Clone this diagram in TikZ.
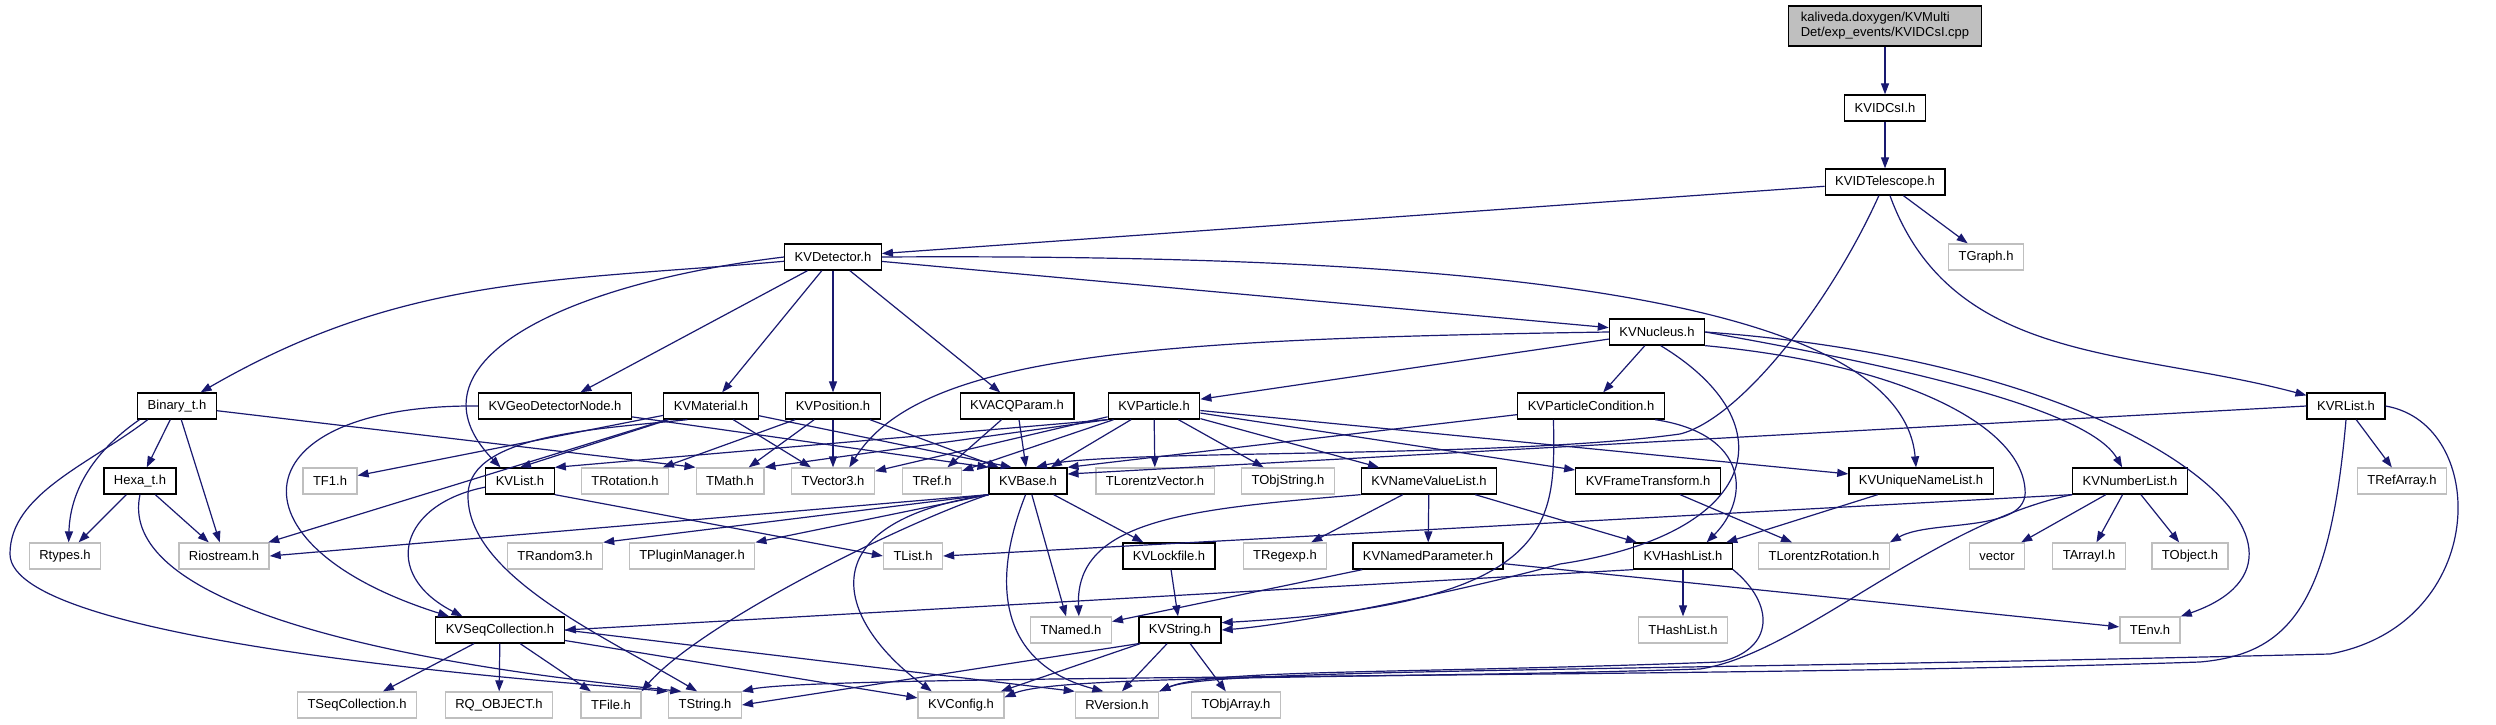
\documentclass[tikz,border=0pt]{standalone}
\usepackage{fontspec}
\setmainfont{Liberation Sans}
\usetikzlibrary{arrows.meta}
\definecolor{depBlue}{HTML}{191970}
\definecolor{sysGrey}{HTML}{BFBFBF}

\begin{document}
\begin{tikzpicture}[
    x=1pt, y=1pt,
    font=\fontsize{13}{15}\selectfont,
    % header boxes
    kvhdr/.style={
        rectangle,
        draw=black,
        fill=white,
        line width=1.3pt,
        minimum height=26pt,
        inner xsep=10pt,
        inner ysep=0pt
    },
    syshdr/.style={kvhdr, draw=sysGrey},
    srcfile/.style={kvhdr, fill=sysGrey, align=left, minimum height=40pt, inner xsep=12pt},
    % include arrows
    incl/.style={-{Triangle[length=11pt, width=8pt]}, line width=1.2pt, color=depBlue}
  ]

  \path[use as bounding box, fill=white] (0,0) rectangle (2496,724);

  % -- Top of the graph --
  \node[srcfile] (root) at (1885,698) {kaliveda.doxygen/KVMulti\\Det/exp\_events/KVIDCsI.cpp};
  \node[kvhdr] (kvidcsi) at (1885,616) {KVIDCsI.h};
  \node[kvhdr] (kvidtel) at (1885,542) {KVIDTelescope.h};
  \node[kvhdr] (kvdet) at (833,467) {KVDetector.h};
  \node[syshdr] (tgraph) at (1986,467) {TGraph.h};
  \node[kvhdr] (kvnuc) at (1657,392) {KVNucleus.h};

  % -- Row 5 --
  \node[kvhdr] (binary) at (177,318) {Binary\_t.h};
  \node[kvhdr] (geonode) at (555,318) {KVGeoDetectorNode.h};
  \node[kvhdr] (kvmat) at (711,318) {KVMaterial.h};
  \node[kvhdr] (kvpos) at (833,318) {KVPosition.h};
  \node[kvhdr] (kvacq) at (1017,318) {KVACQParam.h};
  \node[kvhdr] (kvpart) at (1154,318) {KVParticle.h};
  \node[kvhdr] (kvpcond) at (1591,318) {KVParticleCondition.h};
  \node[kvhdr] (kvrlist) at (2346,318) {KVRList.h};

  % -- Row 6 --
  \node[kvhdr] (hexa) at (140,243) {Hexa\_t.h};
  \node[syshdr] (tfone) at (330,243) {TF1.h};
  \node[kvhdr] (kvlist) at (520,243) {KVList.h};
  \node[syshdr] (trot) at (625,243) {TRotation.h};
  \node[syshdr] (tmath) at (730,243) {TMath.h};
  \node[syshdr] (tvec) at (833,243) {TVector3.h};
  \node[syshdr] (tref) at (932,243) {TRef.h};
  \node[kvhdr] (kvbase) at (1028,243) {KVBase.h};
  \node[syshdr] (tlvec) at (1155,243) {TLorentzVector.h};
  \node[syshdr] (tobjstr) at (1288,243) {TObjString.h};
  \node[kvhdr] (kvnvl) at (1429,243) {KVNameValueList.h};
  \node[kvhdr] (kvframe) at (1648,243) {KVFrameTransform.h};
  \node[kvhdr] (kvuniq) at (1921,243) {KVUniqueNameList.h};
  \node[kvhdr] (kvnum) at (2130,243) {KVNumberList.h};
  \node[syshdr] (trefarr) at (2402,243) {TRefArray.h};

  % -- Row 7 --
  \node[syshdr] (rtypes) at (65,168) {Rtypes.h};
  \node[syshdr] (riostr) at (224,168) {Riostream.h};
  \node[syshdr] (trand) at (555,168) {TRandom3.h};
  \node[syshdr] (tplug) at (692,168) {TPluginManager.h};
  \node[syshdr] (tlist) at (913,168) {TList.h};
  \node[kvhdr] (kvlock) at (1169,168) {KVLockfile.h};
  \node[syshdr] (tregexp) at (1285,168) {TRegexp.h};
  \node[kvhdr] (kvnpar) at (1428,168) {KVNamedParameter.h};
  \node[kvhdr] (kvhash) at (1683,168) {KVHashList.h};
  \node[syshdr] (tlrot) at (1824,168) {TLorentzRotation.h};
  \node[syshdr] (tvector) at (1997,168) {vector};
  \node[syshdr] (tarri) at (2089,168) {TArrayI.h};
  \node[syshdr] (tobject) at (2190,168) {TObject.h};

  % -- Row 8 --
  \node[kvhdr] (kvseq) at (500,94) {KVSeqCollection.h};
  \node[syshdr] (tnamed) at (1071,94) {TNamed.h};
  \node[kvhdr] (kvstring) at (1180,94) {KVString.h};
  \node[syshdr] (thash) at (1683,94) {THashList.h};
  \node[syshdr] (tenv) at (2150,94) {TEnv.h};

  % -- Bottom row --
  \node[syshdr] (tseq) at (357,19) {TSeqCollection.h};
  \node[syshdr] (rqobj) at (499,19) {RQ\_OBJECT.h};
  \node[syshdr] (tfile) at (611,19) {TFile.h};
  \node[syshdr] (tstring) at (705,19) {TString.h};
  \node[syshdr] (kvconf) at (961,19) {KVConfig.h};
  \node[syshdr] (rvers) at (1117,19) {RVersion.h};
  \node[syshdr] (tobjarr) at (1236,19) {TObjArray.h};

  % bend points of the long splines
  \coordinate (telbend) at (1680,290);
  \coordinate (matleft) at (468,230);
  \coordinate (binleft) at (10,170);
  \coordinate (nucgap) at (1560,160);
  \coordinate (lrgap) at (2025,235);
  \coordinate (rlturn) at (2200,62);
  \coordinate (rlturnb) at (2330,70);
  \coordinate (nlturn) at (1700,55);
  \coordinate (hashturn) at (1720,62);

  % -- Source file and telescope --
  \draw[incl] (root) -- (kvidcsi);
  \draw[incl] (kvidcsi) -- (kvidtel);
  \draw[incl] (kvidtel) -- (kvdet);
  \draw[incl] (kvidtel) -- (tgraph);
  \draw[incl] (kvidtel) to[out=-70, in=165] (kvrlist);
  \draw[incl] (kvidtel) .. controls (1830,420) and (1740,305) .. (telbend) .. controls (1500,265) and (1110,275) .. (kvbase.60);

  % -- KVDetector --
  \draw[incl] (kvdet) to[out=185, in=30] (binary);
  \draw[incl] (kvdet) -- (geonode);
  \draw[incl] (kvdet.west) .. controls (560,440) and (400,360) .. (kvlist.145);
  \draw[incl] (kvdet) -- (kvmat);
  \draw[incl] (kvdet) -- (kvpos);
  \draw[incl] (kvdet) -- (kvacq);
  \draw[incl] (kvdet) -- (kvnuc);
  \draw[incl] (kvdet.east) .. controls (1400,470) and (1900,440) .. (kvuniq.110);

  % -- KVNucleus --
  \draw[incl] (kvnuc) -- (kvpart);
  \draw[incl] (kvnuc.west) .. controls (1150,385) and (920,370) .. (tvec.40);
  \draw[incl] (kvnuc) -- (kvpcond);
  \draw[incl] (kvnuc.-75) .. controls (1790,300) and (1760,190) .. (nucgap) .. controls (1470,135) and (1300,100) .. (kvstring.east);
  \draw[incl] (kvnuc.south east) .. controls (1900,360) and (2020,300) .. (lrgap) .. controls (2030,190) and (1930,205) .. (tlrot.north east);
  \draw[incl] (kvnuc.east) to[out=-10, in=120, out distance=180, in distance=70] (kvnum);
  \draw[incl] (kvnuc.east) .. controls (2150,360) and (2360,170) .. (tenv.north east);

  % -- Binary_t.h and Hexa_t.h --
  \draw[incl] (binary) -- (hexa);
  \draw[incl] (binary.-160) .. controls (90,270) and (70,230) .. (rtypes.75);
  \draw[incl] (binary) -- (riostr);
  \draw[incl] (binary) -- (tmath.north west);
  \draw[incl] (binary.-155) .. controls (90,260) and (10,230) .. (binleft) .. controls (10,80) and (560,42) .. (tstring.north west);
  \draw[incl] (hexa) -- (rtypes);
  \draw[incl] (hexa) -- (riostr);
  \draw[incl] (hexa.south) .. controls (110,90) and (560,45) .. (tstring.150);

  % -- Row 5 headers --
  \draw[incl] (geonode.west) .. controls (240,320) and (220,180) .. (kvseq.165);
  \draw[incl] (geonode) -- (kvbase.north west);
  \draw[incl] (kvmat) -- (tfone);
  \draw[incl] (kvmat) -- (riostr);
  \draw[incl] (kvmat) -- (kvlist.north);
  \draw[incl] (kvmat) -- (tvec);
  \draw[incl] (kvmat) -- (kvbase.140);
  \draw[incl] (kvmat.-150) .. controls (600,295) and (470,290) .. (matleft) .. controls (466,150) and (600,90) .. (tstring.120);
  \draw[incl] (kvpos) -- (trot);
  \draw[incl] (kvpos) -- (tmath);
  \draw[incl] (kvpos) -- (tvec);
  \draw[incl] (kvpos) -- (kvbase.155);
  \draw[incl] (kvacq) -- (tref);
  \draw[incl] (kvacq) -- (kvbase);
  \draw[incl] (kvpart.south west) -- (kvlist.north east);
  \draw[incl] (kvpart.south west) -- (tmath.north east);
  \draw[incl] (kvpart) -- (tvec);
  \draw[incl] (kvpart) -- (tref);
  \draw[incl] (kvpart) -- (kvbase);
  \draw[incl] (kvpart) -- (tlvec);
  \draw[incl] (kvpart) -- (tobjstr);
  \draw[incl] (kvpart) -- (kvnvl);
  \draw[incl] (kvpart) -- (kvframe);
  \draw[incl] (kvpart) -- (kvuniq);
  \draw[incl] (kvpcond) -- (kvbase.north east);
  \draw[incl] (kvpcond.-12) .. controls (1750,290) and (1750,225) .. (kvhash.30);
  \draw[incl] (kvpcond.-160) .. controls (1555,200) and (1560,120) .. (kvstring.10);
  \draw[incl] (kvrlist.west) -- (kvbase.10);
  \draw[incl] (kvrlist) -- (trefarr);
  \draw[incl] (kvrlist.south) .. controls (2330,120) and (2290,70) .. (rlturn) .. controls (1700,45) and (820,50) .. (tstring.north east);
  \draw[incl] (kvrlist.east) .. controls (2490,300) and (2490,100) .. (rlturnb) .. controls (1600,52) and (1210,55) .. (rvers.north east);

  % -- Row 6 headers --
  \draw[incl] (kvlist.-170) .. controls (400,220) and (380,150) .. (kvseq.160);
  \draw[incl] (kvlist.south east) -- (tlist.west);
  \draw[incl] (kvbase.south west) -- (riostr.east);
  \draw[incl] (kvbase.south west) -- (trand.north east);
  \draw[incl] (kvbase.south west) -- (tplug.north east);
  \draw[incl] (kvbase.south west) .. controls (900,200) and (700,100) .. (tfile.north east);
  \draw[incl] (kvbase.south west) .. controls (800,200) and (840,100) .. (kvconf.155);
  \draw[incl] (kvbase.-100) .. controls (990,140) and (1000,60) .. (rvers.135);
  \draw[incl] (kvbase) -- (tnamed.110);
  \draw[incl] (kvbase) -- (kvlock);
  \draw[incl] (kvnvl) -- (tregexp);
  \draw[incl] (kvnvl) -- (kvnpar);
  \draw[incl] (kvnvl) -- (kvhash);
  \draw[incl] (kvnvl.south west) .. controls (1190,215) and (1075,205) .. (tnamed.60);
  \draw[incl] (kvframe) -- (tlrot);
  \draw[incl] (kvuniq) -- (kvhash);
  \draw[incl] (kvnum.south west) -- (tlist.east);
  \draw[incl] (kvnum) -- (tvector);
  \draw[incl] (kvnum) -- (tarri);
  \draw[incl] (kvnum) -- (tobject);
  \draw[incl] (kvnum.south west) .. controls (1930,200) and (1800,70) .. (nlturn) .. controls (1400,45) and (1060,50) .. (kvconf.10);

  % -- Row 7 and below --
  \draw[incl] (kvlock) -- (kvstring);
  \draw[incl] (kvnpar) -- (tnamed);
  \draw[incl] (kvnpar) -- (tenv);
  \draw[incl] (kvhash) -- (thash);
  \draw[incl] (kvhash.south west) -- (kvseq.east);
  \draw[incl] (kvhash.south east) .. controls (1775,120) and (1775,75) .. (hashturn) .. controls (1400,50) and (1210,55) .. (rvers.north east);
  \draw[incl] (kvseq) -- (tseq);
  \draw[incl] (kvseq) -- (rqobj);
  \draw[incl] (kvseq) -- (tfile);
  \draw[incl] (kvseq) -- (kvconf);
  \draw[incl] (kvseq.east) -- (rvers.north west);
  \draw[incl] (kvstring.south west) -- (tstring.east);
  \draw[incl] (kvstring) -- (kvconf);
  \draw[incl] (kvstring) -- (rvers.70);
  \draw[incl] (kvstring) -- (tobjarr);

\end{tikzpicture}
\end{document}
